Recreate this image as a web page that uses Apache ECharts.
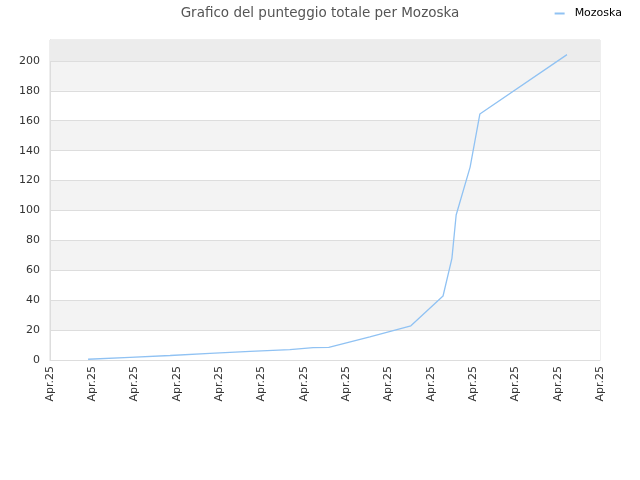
<!DOCTYPE html>
<html>
<head>
<meta charset="utf-8">
<script src="https://cdn.jsdelivr.net/npm/echarts@6/dist/echarts.min.js"></script>
<style>
  html, body { margin: 0; padding: 0; background: #fff; }
  #chart { width: 640px; height: 480px; }
</style>
</head>
<body>
<div id="chart"></div>
<script>
// positions along the date axis (tick units) and total score
const xPos = [0.9, 1.89, 2.84, 3.78, 4.73, 5.67, 6.22, 6.59, 7.56, 8.53, 9.29, 9.5, 9.6, 9.93, 10.16, 12.22];
const scores = [0.5, 1.8, 3.0, 4.4, 5.8, 7.0, 8.3, 8.4, 15.5, 22.9, 42.8, 68, 97, 129, 164.5, 204.2];
const tickLabels = ["Apr.25", "Apr.25", "Apr.25", "Apr.25", "Apr.25", "Apr.25", "Apr.25",
                    "Apr.25", "Apr.25", "Apr.25", "Apr.25", "Apr.25", "Apr.25", "Apr.25"];
const seriesName = "Mozoska";

const chart = echarts.init(document.getElementById("chart"));

chart.setOption({
  animation: false,
  title: {
    text: "Grafico del punteggio totale per Mozoska",
    left: "center",
    top: 1,
    textStyle: { fontFamily: "DejaVu Sans", fontSize: 13.5, fontWeight: "normal", color: "#555" },
  },
  legend: {
    right: 13,
    top: 3,
    itemWidth: 10,
    itemHeight: 2,
    icon: "rect",
    textStyle: { fontFamily: "DejaVu Sans", fontSize: 11, color: "#000", padding: [0, 0, 0, 5] },
    data: [seriesName],
  },
  grid: {
    left: 50,
    right: 40,
    top: 40,
    bottom: 120,
    show: true,
    borderColor: "#ddd",
    borderWidth: 1,
  },
  xAxis: {
    type: "value",
    min: 0,
    max: tickLabels.length - 1,
    interval: 1,
    splitLine: { show: false },
    axisLine: { show: true, lineStyle: { color: "#ddd" } },
    axisTick: { show: false },
    axisLabel: {
      rotate: 90,
      margin: 6,
      fontFamily: "DejaVu Sans",
      fontSize: 11,
      color: "#333",
      formatter: function (v) {
        return tickLabels[Math.round(v)];
      },
    },
  },
  yAxis: {
    type: "value",
    min: 0,
    max: 214,
    interval: 20,
    axisLine: { show: true, lineStyle: { color: "#ddd" } },
    axisTick: { show: false },
    axisLabel: {
      margin: 10,
      fontFamily: "DejaVu Sans",
      fontSize: 11,
      color: "#333",
      showMaxLabel: false,
    },
    splitLine: { show: true, lineStyle: { color: "#ddd" } },
    splitArea: { show: true, areaStyle: { color: ["#ffffff", "#f3f3f3"] } },
  },
  series: [
    {
      name: seriesName,
      type: "line",
      symbol: "none",
      lineStyle: { color: "#90c2f3", width: 1.3 },
      itemStyle: { color: "#90c2f3" },
      data: xPos.map((x, i) => [x, scores[i]]),
      markArea: {
        silent: true,
        itemStyle: { color: "#ececec" },
        data: [[{ yAxis: 200 }, { yAxis: 214 }]],
      },
    },
  ],
});
</script>
</body>
</html>
